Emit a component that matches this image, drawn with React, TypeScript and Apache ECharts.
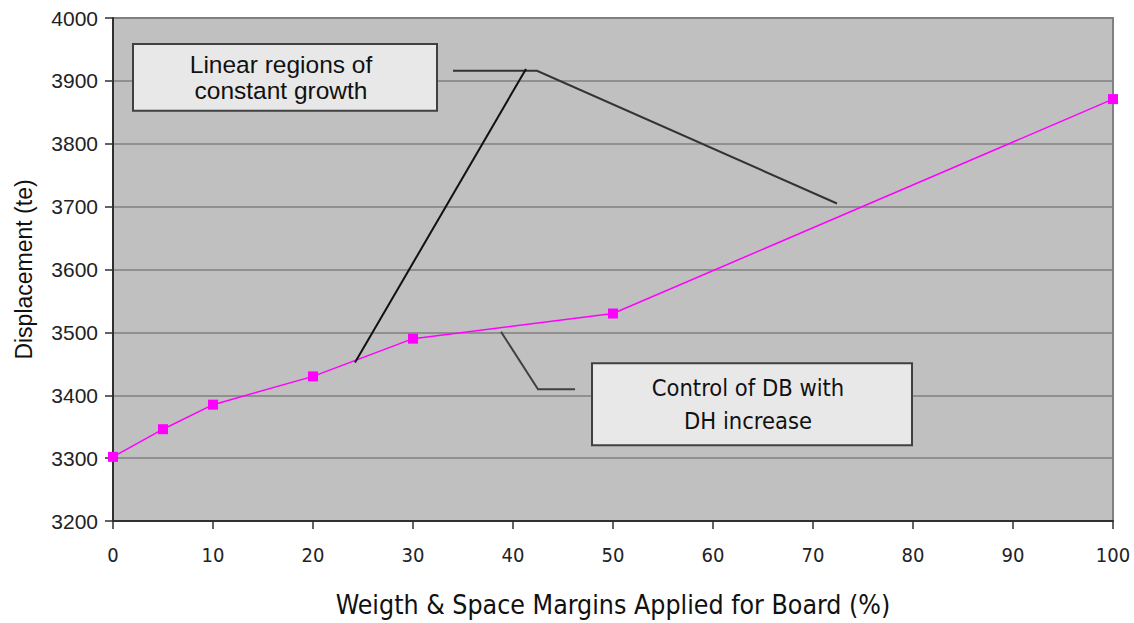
import React, { useEffect, useRef } from "react";
import * as echarts from "echarts";

const xValues = [0, 5, 10, 20, 30, 50, 100];
const displacement = [3302, 3346, 3385, 3430, 3490, 3530, 3871];

// annotation geometry in data coordinates [x, y]
const note1Box = [[2.0, 3958.7], [32.4, 3852.4]];
const note1Text = "Linear regions of\nconstant growth";
const note1Line = [[34.0, 3916], [42.4, 3916], [72.4, 3705]];
const note1Line2 = [[41.3, 3919], [24.2, 3452]];
const note2Box = [[47.9, 3450.8], [79.9, 3320.6]];
const note2Text = "Control of DB with\nDH increase";
const note2Line = [[38.8, 3501], [42.5, 3409.5], [46.2, 3409.5]];

const condensed = "DejaVu Sans Condensed";
const arial = "Liberation Sans";

export default function App() {
  const ref = useRef<HTMLDivElement>(null);
  useEffect(() => {
    document.body.style.margin = "0";
    if (!ref.current) return;
    const chart = echarts.init(ref.current, undefined, { renderer: "svg" });
    chart.setOption({
      animation: false,
      backgroundColor: "#ffffff",
      grid: {
        left: 113,
        top: 18,
        right: 21,
        bottom: 101,
        show: true,
        backgroundColor: "#c0c0c0",
        borderColor: "#808080",
        borderWidth: 2,
      },
      xAxis: {
        type: "value",
        min: 0,
        max: 100,
        interval: 10,
        name: "Weigth & Space Margins Applied for Board (%)",
        nameLocation: "middle",
        nameGap: 70,
        nameTextStyle: { fontFamily: condensed, fontSize: 26.5, color: "#111" },
        axisLine: { show: true, onZero: false, lineStyle: { color: "#303030", width: 2 } },
        axisTick: { show: true, length: 8, lineStyle: { color: "#303030", width: 1.5 } },
        axisLabel: { fontFamily: condensed, fontSize: 20, color: "#222", margin: 24 },
        splitLine: { show: false },
      },
      yAxis: {
        type: "value",
        min: 3200,
        max: 4000,
        interval: 100,
        name: "Displacement (te)",
        nameLocation: "middle",
        nameGap: 78,
        nameTextStyle: { fontFamily: arial, fontSize: 23, color: "#111" },
        axisLine: { show: true, lineStyle: { color: "#303030", width: 2 } },
        axisTick: { show: true, length: 8, lineStyle: { color: "#303030", width: 1.5 } },
        axisLabel: {
          fontFamily: arial,
          fontSize: 21,
          color: "#222",
          margin: 15,
          formatter: (v: number) => String(v),
        },
        splitLine: { show: true, lineStyle: { color: "#808080", width: 1.5 } },
      },
      series: [
        {
          type: "line",
          data: xValues.map((x, i) => [x, displacement[i]]),
          lineStyle: { color: "#ff00ff", width: 1.5 },
          itemStyle: { color: "#ff00ff" },
          symbol: "rect",
          symbolSize: 10,
          z: 3,
        },
      ],
    });

    const px = (p: number[]) => chart.convertToPixel({ gridIndex: 0 }, p) as number[];
    const box = (b: number[][], text: string, font: string, size: number, lh: number) => {
      const a = px(b[0]);
      const c = px(b[1]);
      return [
        {
          type: "rect",
          shape: { x: a[0], y: a[1], width: c[0] - a[0], height: c[1] - a[1] },
          style: { fill: "#e8e8e8", stroke: "#404040", lineWidth: 2 },
          z: 10,
        },
        {
          type: "text",
          x: (a[0] + c[0]) / 2 - 4,
          y: (a[1] + c[1]) / 2,
          style: {
            text,
            fontFamily: font,
            fontSize: size,
            lineHeight: lh,
            fill: "#111",
            align: "center",
            verticalAlign: "middle",
          },
          z: 11,
        },
      ];
    };
    const poly = (pts: number[][], color: string) => ({
      type: "polyline",
      shape: { points: pts.map(px) },
      style: { stroke: color, lineWidth: 2, fill: null },
      z: 9,
    });

    chart.setOption({
      graphic: [
        poly(note1Line, "#333333"),
        poly(note1Line2, "#111111"),
        poly(note2Line, "#404040"),
        ...box(note1Box, note1Text, arial, 24.5, 26),
        ...box(note2Box, note2Text, condensed, 23.5, 33),
      ],
    });

    return () => chart.dispose();
  }, []);
  return <div ref={ref} style={{ width: 1134, height: 623 }} />;
}
